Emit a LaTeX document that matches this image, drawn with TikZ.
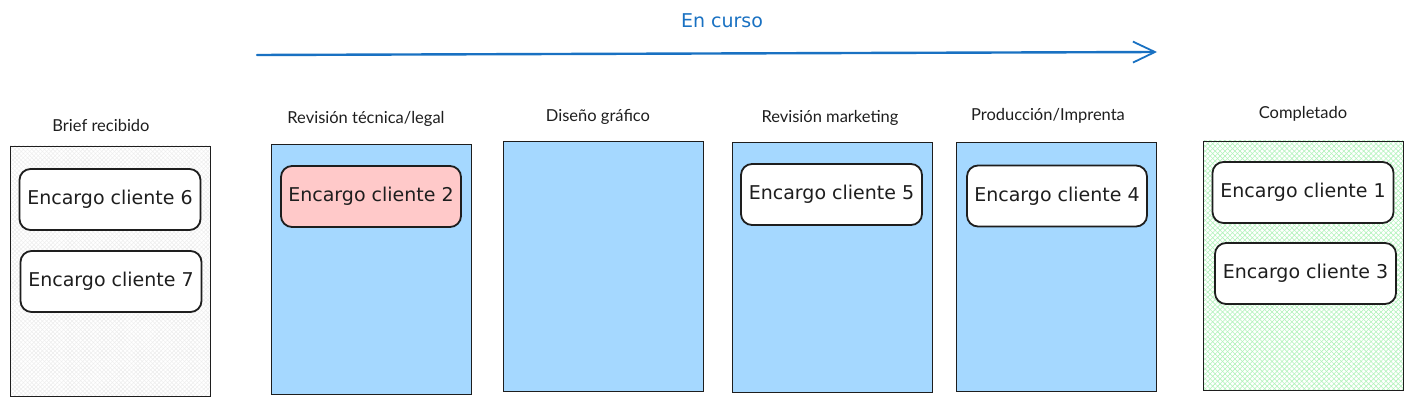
\documentclass[tikz,border=0pt]{standalone}
\usepackage{fontspec}
\setmainfont{Lato}
\newfontfamily\cardfont{DejaVu Sans}
\usetikzlibrary{arrows.meta,patterns.meta}
\definecolor{colblue}{HTML}{A5D8FF}
\definecolor{cardred}{HTML}{FFC9C9}
\definecolor{strokec}{HTML}{1E1E1E}
\definecolor{arrowblue}{HTML}{1971C2}
\definecolor{hatchgreen}{HTML}{B2F2BB}
\definecolor{hatchgray}{HTML}{EDEDED}
\tikzset{
  column/.style={draw=strokec, line width=0.8pt},
  coltitle/.style={font=\fontsize{16.5pt}{18pt}\selectfont, text=strokec},
  card/.style={draw=strokec, line width=1.8pt, rounded corners=11pt, fill=white,
    minimum width=181pt, minimum height=61pt, inner sep=0pt,
    font=\cardfont\fontsize{19pt}{21pt}\selectfont, text=strokec},
}
\begin{document}
\begin{tikzpicture}[x=1pt,y=-1pt]
\useasboundingbox (0,0) rectangle (1412,406);
% columns
\path[fill=white] (10,146) rectangle (210,396);
\path[pattern={Lines[angle=45,distance=3pt,line width=0.5pt]},pattern color=hatchgray] (10,146) rectangle (210,396);
\path[pattern={Lines[angle=-45,distance=3pt,line width=0.5pt]},pattern color=hatchgray] (10,146) rectangle (210,396);
\node[column, minimum width=200pt, minimum height=250pt, inner sep=0pt] (c1) at (110,271) {};
\node[column, fill=colblue, minimum width=200pt, minimum height=250pt, inner sep=0pt] (c2) at (371,269) {};
\node[column, fill=colblue, minimum width=200pt, minimum height=250pt, inner sep=0pt] (c3) at (603,266) {};
\node[column, fill=colblue, minimum width=200pt, minimum height=250pt, inner sep=0pt] (c4) at (832,267) {};
\node[column, fill=colblue, minimum width=200pt, minimum height=249pt, inner sep=0pt] (c5) at (1056,266.5) {};
\path[pattern={Lines[angle=45,distance=3.5pt,line width=0.6pt]},pattern color=hatchgreen] (1203,141) rectangle (1403,390);
\path[pattern={Lines[angle=-45,distance=3.5pt,line width=0.6pt]},pattern color=hatchgreen] (1203,141) rectangle (1403,390);
\node[column, minimum width=200pt, minimum height=249pt, inner sep=0pt] (c6) at (1303,265.5) {};
% titles
\node[coltitle] (t1) at (101,125) {Brief recibido};
\node[coltitle] (t2) at (366,119) {Revisión técnica/legal};
\node[coltitle] (t3) at (598,117) {Diseño gráfico};
\node[coltitle] (t4) at (830,118) {Revisión marketing};
\node[coltitle] (t5) at (1048,116) {Producción/Imprenta};
\node[coltitle] (t6) at (1303,114) {Completado};
% cards
\node[card] (k6) at (110,199.5) {Encargo cliente 6};
\node[card] (k7) at (111,281.5) {Encargo cliente 7};
\node[card, fill=cardred, minimum width=180pt] (k2) at (371,196.5) {Encargo cliente 2};
\node[card] (k5) at (831.5,194.5) {Encargo cliente 5};
\node[card, minimum width=180pt] (k4) at (1057,196) {Encargo cliente 4};
\node[card] (k1) at (1303,192.5) {Encargo cliente 1};
\node[card] (k3) at (1305.5,273.5) {Encargo cliente 3};
% arrow
\coordinate (a0) at (257,55);
\coordinate (a1) at (1157,52);
\draw[arrowblue, line width=2.4pt, line cap=round, -{Straight Barb[length=22pt,width=21pt,line width=1.8pt]}] (a0) -- (a1);
\node[text=arrowblue, font=\cardfont\fontsize{19pt}{21pt}\selectfont] (lbl) at (722,21) {En curso};
\end{tikzpicture}
\end{document}
